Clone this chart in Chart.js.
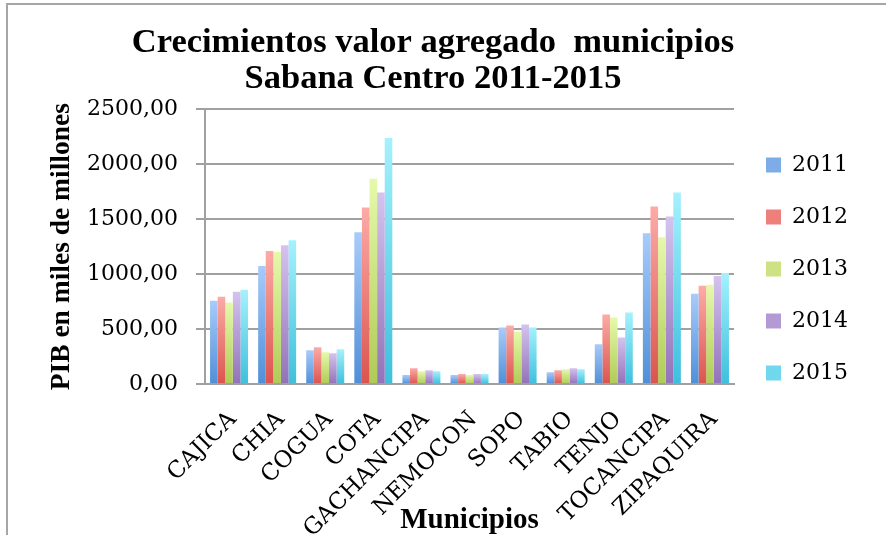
<!DOCTYPE html>
<html>
<head>
<meta charset="utf-8">
<script src="https://cdn.jsdelivr.net/npm/chart.js@4/dist/chart.umd.min.js"></script>
<style>
  html, body { margin: 0; padding: 0; background: #ffffff; }
  #wrap { width: 886px; height: 535px; position: relative; }
</style>
</head>
<body>
<div id="wrap"><canvas id="c" width="886" height="535"></canvas></div>
<script>
// ---- Data ----
const categories = ['CAJICA','CHIA','COGUA','COTA','GACHANCIPA','NEMOCON','SOPO','TABIO','TENJO','TOCANCIPA','ZIPAQUIRA'];
const seriesNames = ['2011','2012','2013','2014','2015'];
const values2011 = [758, 1075, 307, 1382,  81,  81, 515, 108, 361, 1373,  822];
const values2012 = [795, 1210, 334, 1607, 144,  90, 533, 126, 632, 1616,  894];
const values2013 = [743, 1201, 289, 1869, 117,  81, 479, 135, 605, 1336,  903];
const values2014 = [840, 1264, 280, 1743, 126,  90, 542, 144, 424, 1526,  984];
const values2015 = [858, 1309, 316, 2239, 117,  90, 515, 135, 650, 1743, 1011];
const yTickLabels = ['0,00','500,00','1000,00','1500,00','2000,00','2500,00'];
const chartTitle = ['Crecimientos valor agregado  municipios', 'Sabana Centro 2011-2015'];
const yTitle = 'PIB en miles de millones';
const xTitle = 'Municipios';

// ---- Styles ----
const topColors = ['#a9cbfa','#fcaba7','#e6f9ab','#d4c3ee','#a5f1fd'];
const botColors = ['#4f8fd8','#dc544e','#afcb57','#9272b9','#3dc0dc'];
const midColors = ['#7cade9','#ee7f7a','#cde283','#b39ad4','#6fd8ee'];
const allValues = [values2011, values2012, values2013, values2014, values2015];

function barFill(i) {
  return function (ctx) {
    const chart = ctx.chart;
    if (!chart.chartArea || ctx.type !== 'data') return midColors[i];
    const y = chart.scales.y;
    const yTop = y.getPixelForValue(ctx.raw);
    const yBot = y.getPixelForValue(0);
    if (!isFinite(yTop) || Math.abs(yBot - yTop) < 1) return midColors[i];
    const g = chart.ctx.createLinearGradient(0, yTop, 0, yBot);
    g.addColorStop(0, topColors[i]);
    g.addColorStop(1, botColors[i]);
    return g;
  };
}

const datasets = seriesNames.map((name, i) => ({
  label: name,
  data: allValues[i],
  backgroundColor: barFill(i),
  borderWidth: 0,
  barPercentage: 1.0,
  categoryPercentage: 0.79
}));

const framePlugin = {
  id: 'frame',
  beforeDraw(chart) {
    const c = chart.ctx;
    c.save();
    c.strokeStyle = '#a6a6a6';
    c.lineWidth = 2;
    c.beginPath();
    c.moveTo(7, 535);
    c.lineTo(7, 4);
    c.lineTo(886, 4);
    c.stroke();
    c.restore();
  }
};

const legendShift = {
  id: 'legendShift',
  afterLayout(chart) {
    const lg = chart.legend;
    if (lg) { lg.left += 2; lg.right += 2; }
  }
};

new Chart(document.getElementById('c'), {
  type: 'bar',
  data: { labels: categories, datasets: datasets },
  plugins: [framePlugin, legendShift],
  options: {
    responsive: false,
    animation: false,
    devicePixelRatio: 1,
    layout: { padding: { left: 10, right: 30, top: 3, bottom: 0 } },
    plugins: {
      tooltip: { enabled: false },
      title: {
        display: true,
        text: chartTitle,
        color: '#000000',
        font: { family: 'Liberation Serif', size: 34.5, weight: 'bold', lineHeight: 1.05 },
        padding: { top: 22, bottom: 12 }
      },
      legend: {
        position: 'right',
        labels: {
          boxWidth: 15,
          boxHeight: 15,
          padding: 30,
          color: '#000000',
          font: { family: 'DejaVu Serif', size: 22 },
          generateLabels(chart) {
            return seriesNames.map((n, i) => ({
              text: n,
              fillStyle: midColors[i],
              strokeStyle: midColors[i],
              lineWidth: 0,
              hidden: false,
              datasetIndex: i
            }));
          }
        }
      }
    },
    scales: {
      x: {
        grid: { display: false, drawTicks: false },
        border: { display: true, color: '#a0a0a0', width: 2 },
        ticks: {
          color: '#000000',
          font: { family: 'DejaVu Serif', size: 23 },
          minRotation: 45,
          maxRotation: 45,
          padding: 22,
          labelOffset: 4,
          autoSkip: false
        },
        title: {
          display: true,
          text: xTitle,
          color: '#000000',
          font: { family: 'Liberation Serif', size: 29, weight: 'bold', lineHeight: 1.0 },
          padding: { top: 0, bottom: 0 }
        },
        afterFit(scale) { scale.height = 151; }
      },
      y: {
        min: 0,
        max: 2500,
        grid: { color: '#a0a0a0', lineWidth: 2, tickLength: 9, drawTicks: true },
        border: { display: true, color: '#a0a0a0', width: 2 },
        ticks: {
          stepSize: 500,
          color: '#000000',
          font: { family: 'DejaVu Serif', size: 22 },
          padding: 18,
          callback: (v, i) => yTickLabels[i]
        },
        title: {
          display: true,
          text: yTitle,
          color: '#000000',
          font: { family: 'Liberation Serif', size: 27.5, weight: 'bold' },
          padding: { top: 35, bottom: 0 }
        },
        afterFit(scale) { scale.width = 195; }
      }
    }
  }
});
</script>
</body>
</html>
